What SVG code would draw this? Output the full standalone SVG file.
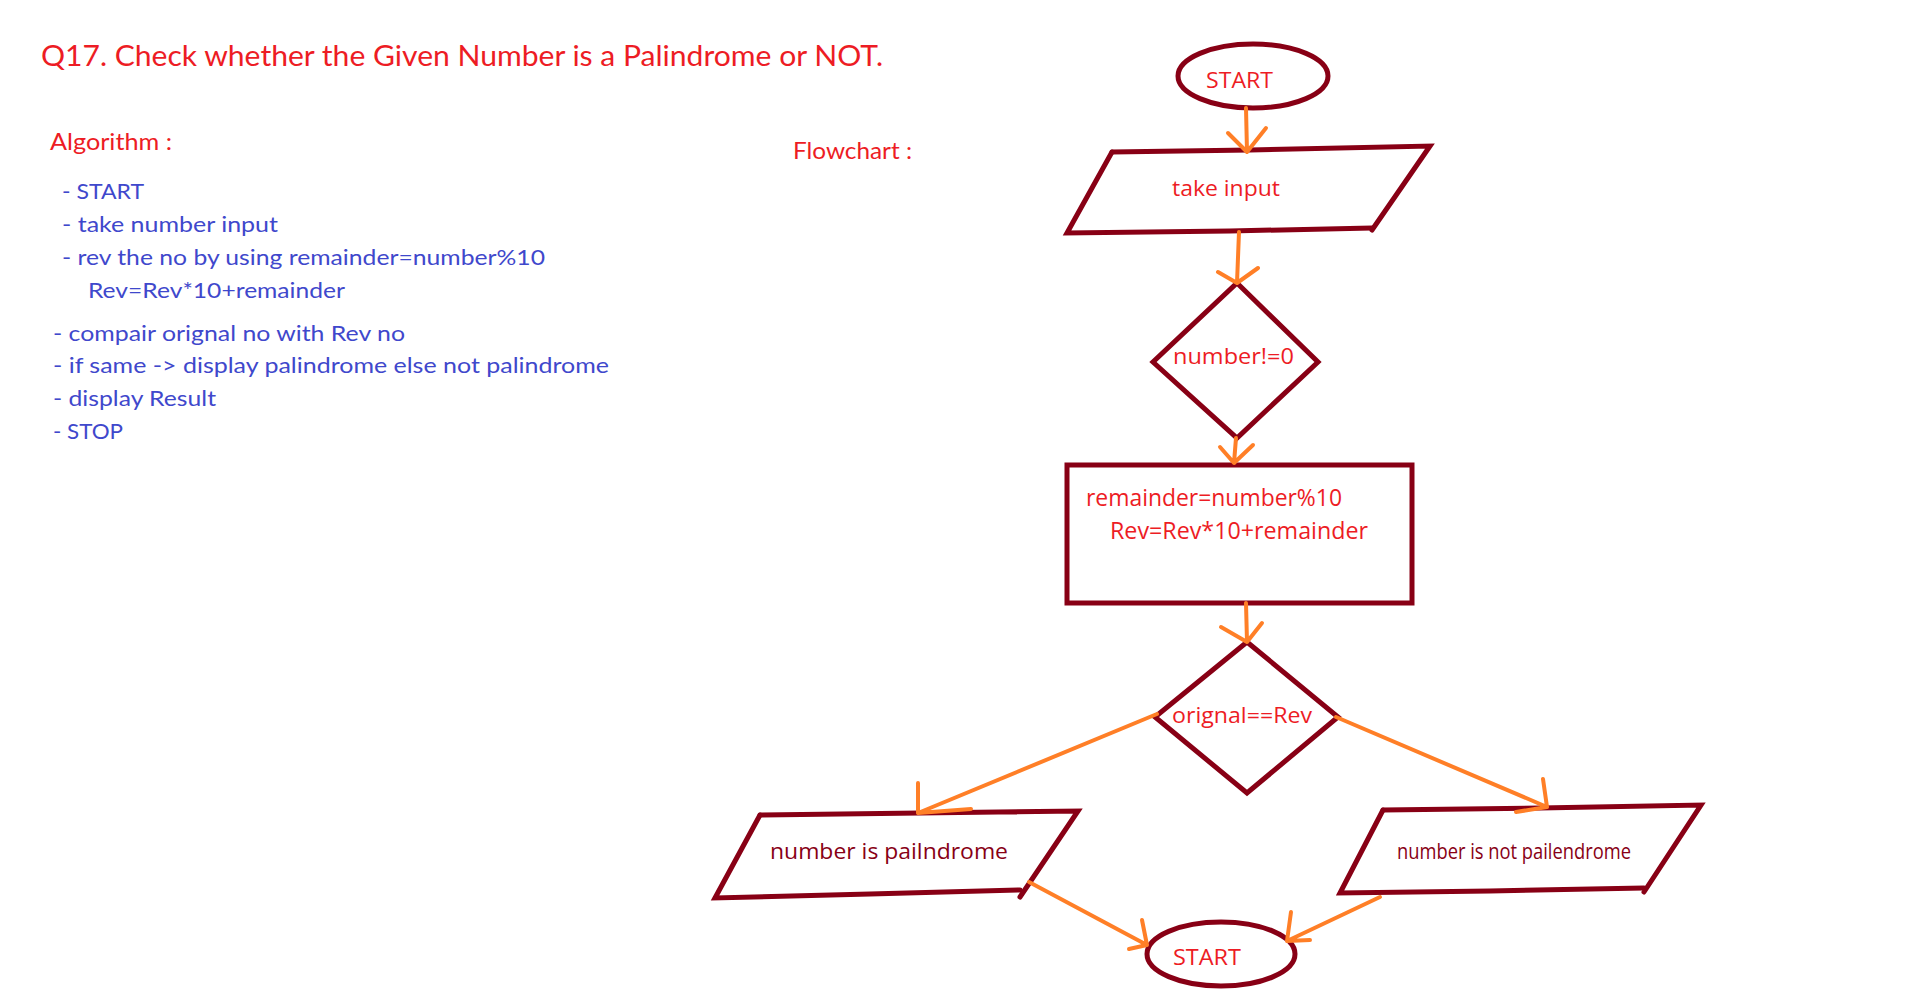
<svg xmlns="http://www.w3.org/2000/svg" width="1911" height="994" viewBox="0 0 1911 994">
<style>
.shape{fill:none;stroke:#880015;stroke-width:5;stroke-linejoin:miter;stroke-linecap:round}
.conn{fill:none;stroke:#ff7f27;stroke-width:4;stroke-linecap:round;stroke-linejoin:round}
.red{fill:#ed1c24}
.blue{fill:#3f48cc}
.dark{fill:#880015}
.cal{font-family:Lato,"Liberation Sans",sans-serif}
.seg{font-family:"Open Sans","Noto Sans","Liberation Sans",sans-serif}
</style>
<rect x="0" y="0" width="1911" height="994" fill="#ffffff"/>

<g id="title">
<text class="cal red" x="41" y="66" font-size="28" textLength="842" lengthAdjust="spacingAndGlyphs">Q17. Check whether the Given Number is a Palindrome or NOT.</text>
</g>

<g id="algorithm">
<text class="cal red" x="50" y="150" font-size="23" textLength="122" lengthAdjust="spacingAndGlyphs">Algorithm :</text>
<text class="cal blue" x="62" y="199" font-size="22" textLength="82" lengthAdjust="spacingAndGlyphs">- START</text>
<text class="cal blue" x="62" y="232" font-size="22" textLength="216" lengthAdjust="spacingAndGlyphs">- take number input</text>
<text class="cal blue" x="62" y="265" font-size="22" textLength="483" lengthAdjust="spacingAndGlyphs">- rev the no by using remainder=number%10</text>
<text class="cal blue" x="88" y="298" font-size="22" textLength="257" lengthAdjust="spacingAndGlyphs">Rev=Rev*10+remainder</text>
<text class="cal blue" x="53" y="341" font-size="22" textLength="352" lengthAdjust="spacingAndGlyphs">- compair orignal no with Rev no</text>
<text class="cal blue" x="53" y="373" font-size="22" textLength="556" lengthAdjust="spacingAndGlyphs">- if same -&gt; display palindrome else not palindrome</text>
<text class="cal blue" x="53" y="406" font-size="22" textLength="163" lengthAdjust="spacingAndGlyphs">- display Result</text>
<text class="cal blue" x="53" y="439" font-size="22" textLength="70" lengthAdjust="spacingAndGlyphs">- STOP</text>
</g>

<g id="flowchart-label">
<text class="cal red" x="793" y="159" font-size="23" textLength="119" lengthAdjust="spacingAndGlyphs">Flowchart :</text>
</g>

<g id="start-top">
<ellipse class="shape" cx="1253" cy="76" rx="75" ry="32"/>
<text class="seg red" x="1206" y="88" font-size="22" textLength="67" lengthAdjust="spacingAndGlyphs">START</text>
</g>

<g id="take-input">
<polyline class="shape" points="1112,152 1250,150 1430,146 1372,230"/>
<polyline class="shape" points="1112,152 1067,233 1230,231 1372,228"/>
<text class="seg red" x="1172" y="196" font-size="22" textLength="108" lengthAdjust="spacingAndGlyphs">take input</text>
</g>

<g id="decision-number">
<polygon class="shape" points="1237,283 1318,362 1237,438 1153,362"/>
<text class="seg red" x="1173" y="364" font-size="22" textLength="121" lengthAdjust="spacingAndGlyphs">number!=0</text>
</g>

<g id="process-rev">
<rect class="shape" x="1067" y="465" width="345" height="138"/>
<text class="seg red" x="1086" y="506" font-size="23" textLength="256" lengthAdjust="spacingAndGlyphs">remainder=number%10</text>
<text class="seg red" x="1110" y="539" font-size="23" textLength="258" lengthAdjust="spacingAndGlyphs">Rev=Rev*10+remainder</text>
</g>

<g id="decision-compare">
<polygon class="shape" points="1247,642 1338,717 1247,793 1155,717"/>
<text class="seg red" x="1172" y="723" font-size="22" textLength="140" lengthAdjust="spacingAndGlyphs">orignal==Rev</text>
</g>

<g id="out-palindrome">
<polyline class="shape" points="760,815 920,813 1078,811 1020,897"/>
<polyline class="shape" points="760,815 715,898 870,894 1020,890"/>
<text class="seg dark" x="770" y="859" font-size="21" textLength="238" lengthAdjust="spacingAndGlyphs">number is pailndrome</text>
</g>

<g id="out-not-palindrome">
<polyline class="shape" points="1383,810 1540,808 1701,805 1644,892"/>
<polyline class="shape" points="1383,810 1340,893 1490,891 1644,888"/>
<text class="seg dark" x="1397" y="859" font-size="22" textLength="234" lengthAdjust="spacingAndGlyphs">number is not pailendrome</text>
</g>

<g id="start-bottom">
<ellipse class="shape" cx="1221" cy="954" rx="74" ry="32"/>
<text class="seg red" x="1173" y="965" font-size="21" textLength="68" lengthAdjust="spacingAndGlyphs">START</text>
</g>

<g id="connectors">
<path class="conn" d="M1246,108 L1247,152 M1228,133 L1247,152 L1266,128"/>
<path class="conn" d="M1239,232 L1237,283 M1218,272 L1237,283 L1258,268"/>
<path class="conn" d="M1236,438 L1234,463 M1220,447 L1234,463 L1253,445"/>
<path class="conn" d="M1246,603 L1247,642 M1221,627 L1247,642 L1262,623"/>
<path class="conn" d="M1157,714 L918,813 M918,783 L918,813 L971,809"/>
<path class="conn" d="M1336,717 L1547,807 M1543,779 L1547,807 L1516,812"/>
<path class="conn" d="M1029,882 L1147,945 M1142,920 L1147,945 L1129,949"/>
<path class="conn" d="M1380,897 L1287,941 M1291,912 L1287,941 L1310,940"/>
</g>
</svg>
